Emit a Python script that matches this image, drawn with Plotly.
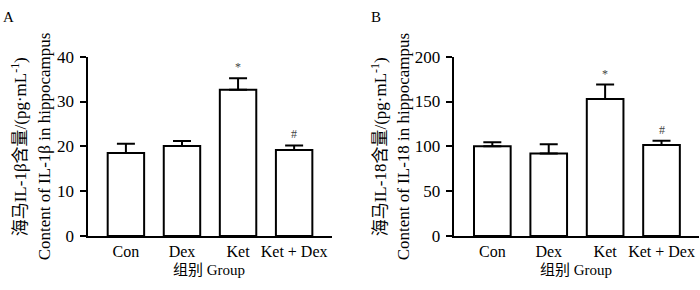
import plotly.graph_objects as go

categories = ["Con", "Dex", "Ket", "Ket + Dex"]
il1b_values = [18.5, 20.1, 32.6, 19.2]
il1b_errors = [2.1, 1.1, 2.6, 1.0]
il18_values = [100.0, 92.0, 152.7, 101.6]
il18_errors = [4.7, 10.4, 16.2, 4.8]
sig_marks = ["", "", "*", "#"]
yticks_a = [0, 10, 20, 30, 40]
yticks_b = [0, 50, 100, 150, 200]

FONT = "Liberation Serif, Times New Roman, Noto Sans CJK SC, serif"
FS = 17

fig = go.Figure()

def add_bars(vals, errs, xa, ya):
    fig.add_trace(go.Bar(
        x=categories, y=vals, xaxis=xa, yaxis=ya, width=0.65,
        marker=dict(color="white", line=dict(color="black", width=2)),
        error_y=dict(type="data", array=errs, arrayminus=[0]*len(errs), symmetric=False,
                     color="black", thickness=2, width=9),
        showlegend=False, hoverinfo="skip"))
    for c, v, e, m in zip(categories, vals, errs, sig_marks):
        if m:
            fig.add_annotation(x=c, y=v + e, xref=xa, yref=ya, text=m, showarrow=False,
                               yanchor="bottom", yshift=2,
                               font=dict(family=FONT, size=12, color="#444444"))

add_bars(il1b_values, il1b_errors, "x", "y")
add_bars(il18_values, il18_errors, "x2", "y2")

ydom = [47/290, 239/290]
xcommon = dict(type="category", range=[-0.685, 3.67], showline=True, linecolor="black",
               linewidth=2, ticks="", showgrid=False, zeroline=False, ticklabelstandoff=0,
               tickfont=dict(family=FONT, size=16, color="black"), fixedrange=True)
ycommon = dict(showline=True, linecolor="black", linewidth=2, ticks="outside", ticklen=6,
               tickwidth=2, tickcolor="black", showgrid=False, zeroline=False,
               ticklabelstandoff=2,
               tickfont=dict(family=FONT, size=FS, color="black"), domain=ydom)

fig.update_layout(
    width=700, height=290, autosize=False, margin=dict(l=0, r=0, t=0, b=0, pad=0),
    paper_bgcolor="white", plot_bgcolor="white",
    xaxis=dict(domain=[87.5/700, 331.7/700], anchor="y", **xcommon),
    yaxis=dict(range=[0, 40], tickvals=yticks_a, anchor="x", **ycommon),
    xaxis2=dict(domain=[453.7/700, 699.3/700], anchor="y2", **xcommon),
    yaxis2=dict(range=[0, 200], tickvals=yticks_b, anchor="x2", **ycommon),
)

def ann(text, x, y, angle=0, size=FS, xa="center", ya="middle"):
    fig.add_annotation(text=text, x=x/700, y=1 - y/290, xref="paper", yref="paper",
                       showarrow=False, textangle=angle, xanchor=xa, yanchor=ya,
                       font=dict(family=FONT, size=size, color="black"))

# panel letters
ann("A", 1, 9, size=15, xa="left")
ann("B", 369, 9, size=15, xa="left")
# y titles
ann("海马IL-1β含量/(pg·mL<sup>-1</sup>)", 19, 148, angle=-90)
ann("Content of IL-1β in hippocampus", 44, 147, angle=-90)
ann("海马IL-18含量/(pg·mL<sup>-1</sup>)", 379, 148, angle=-90)
ann("Content of IL-18 in hippocampus", 403, 147, angle=-90)
# x titles
ann("组别 Group", 209, 290, size=15, ya="bottom")
ann("组别 Group", 576, 290, size=15, ya="bottom")

fig.write_html("out.html", config={"displayModeBar": False},
               post_script="document.body.style.margin='0';document.body.style.overflow='hidden';")
